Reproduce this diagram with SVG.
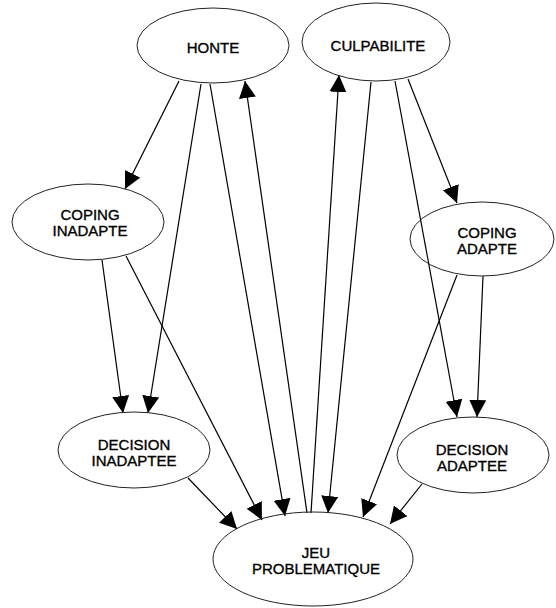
<svg xmlns="http://www.w3.org/2000/svg" width="556" height="608" viewBox="0 0 556 608">
  <defs>
    <marker id="arrow" markerUnits="userSpaceOnUse" markerWidth="18" markerHeight="18" refX="17" refY="8.5" orient="auto">
      <path d="M0,0 L17,8.5 L0,17 Z" fill="#000"/>
    </marker>
    <style>
      .node ellipse { fill: none; stroke: #222; stroke-width: 1; }
      .node text { font-family: "Liberation Sans", Arial, sans-serif; font-size: 15px; fill: #000; stroke: #000; stroke-width: 0.35; text-anchor: middle; }
      #edges line { stroke: #000; stroke-width: 1.2; marker-end: url(#arrow); }
    </style>
  </defs>
  <rect width="556" height="608" fill="#fff"/>

  <g id="edges">
    <!-- from HONTE -->
    <line x1="179" y1="81" x2="125" y2="189"/>
    <line x1="201" y1="84" x2="148" y2="413"/>
    <line x1="210" y1="84" x2="285" y2="516"/>
    <!-- from JEU PROBLEMATIQUE back up -->
    <line x1="307" y1="513" x2="245" y2="81"/>
    <line x1="311" y1="513" x2="339" y2="75"/>
    <!-- from CULPABILITE -->
    <line x1="371" y1="82" x2="328" y2="513"/>
    <line x1="395" y1="81" x2="457" y2="417"/>
    <line x1="408" y1="79" x2="457" y2="203"/>
    <!-- from COPING INADAPTE -->
    <line x1="102" y1="260" x2="123" y2="413"/>
    <line x1="126" y1="256" x2="262" y2="520"/>
    <!-- from COPING ADAPTE -->
    <line x1="457" y1="275" x2="363" y2="517"/>
    <line x1="483" y1="276" x2="477" y2="417"/>
    <!-- from the two decisions -->
    <line x1="188" y1="478" x2="237" y2="529"/>
    <line x1="422" y1="484" x2="390" y2="524"/>
  </g>

  <g id="honte" class="node">
    <ellipse cx="213" cy="45.5" rx="76" ry="37.5"/>
    <text x="213" y="53">HONTE</text>
  </g>
  <g id="culpabilite" class="node">
    <ellipse cx="376" cy="42" rx="74" ry="39"/>
    <text x="378" y="51">CULPABILITE</text>
  </g>
  <g id="coping-inadapte" class="node">
    <ellipse cx="88" cy="222" rx="76" ry="38"/>
    <text x="90" y="220">COPING</text>
    <text x="90" y="236">INADAPTE</text>
  </g>
  <g id="coping-adapte" class="node">
    <ellipse cx="482" cy="239" rx="72" ry="37"/>
    <text x="487" y="238">COPING</text>
    <text x="487" y="254">ADAPTE</text>
  </g>
  <g id="decision-inadaptee" class="node">
    <ellipse cx="134" cy="450" rx="76" ry="38"/>
    <text x="134" y="450">DECISION</text>
    <text x="134" y="466">INADAPTEE</text>
  </g>
  <g id="decision-adaptee" class="node">
    <ellipse cx="473" cy="455" rx="76" ry="38"/>
    <text x="472" y="455">DECISION</text>
    <text x="472" y="471">ADAPTEE</text>
  </g>
  <g id="jeu-problematique" class="node">
    <ellipse cx="313" cy="559" rx="100" ry="47"/>
    <text x="316" y="558">JEU</text>
    <text x="316" y="574">PROBLEMATIQUE</text>
  </g>
</svg>
